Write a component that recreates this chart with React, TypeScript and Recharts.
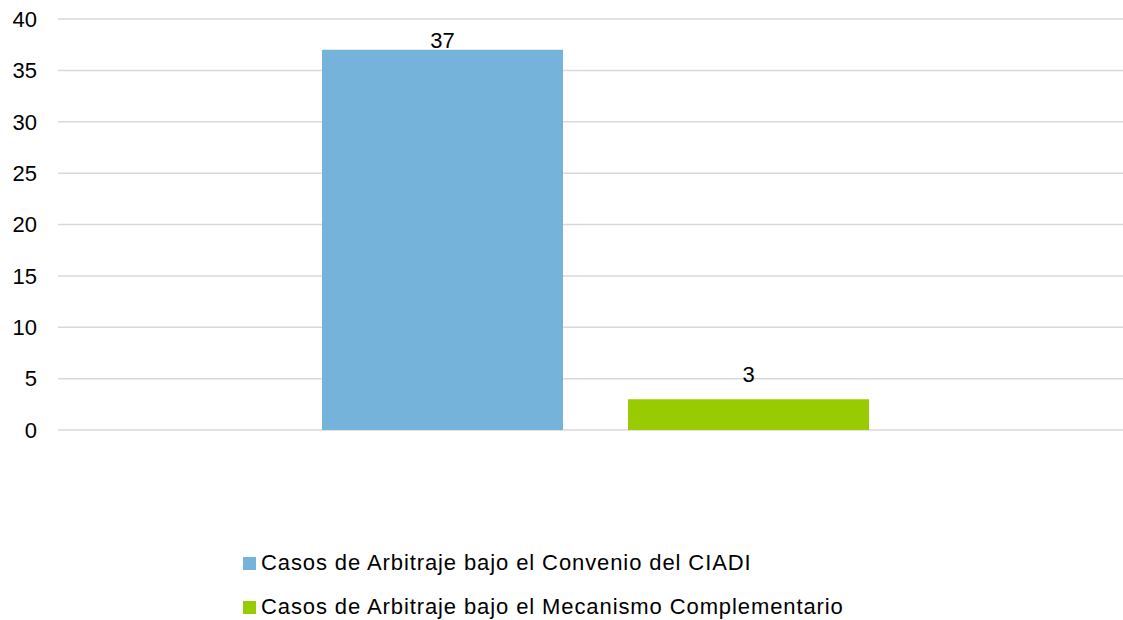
import { BarChart, Bar, XAxis, YAxis, CartesianGrid, LabelList, Legend } from "recharts";

const CATEGORIES = ["Casos"];
const SERIES_NAMES = [
  "Casos de Arbitraje bajo el Convenio del CIADI",
  "Casos de Arbitraje bajo el Mecanismo Complementario",
];
const CONVENIO = [37];
const MECANISMO = [3];
const Y_TICKS = [0, 5, 10, 15, 20, 25, 30, 35, 40];

const COLORS = ["#76B3DB", "#99CC00"];
const FONT = '"Liberation Sans", Arial, sans-serif';

const data = CATEGORIES.map((c, i) => ({ name: c, convenio: CONVENIO[i], mecanismo: MECANISMO[i] }));

// Excel-style "outside end" label, kept inside the plot top
const renderLabel = (props: any) => {
  const { x, y, width, value } = props;
  const baseline = Math.max(y - 17, 48);
  return (
    <text x={x + width / 2} y={baseline} textAnchor="middle" fontSize={22} fontFamily={FONT} fill="#000">
      {value}
    </text>
  );
};

const renderLegend = () => (
  <div style={{ fontFamily: FONT, fontSize: 22, color: "#000" }}>
    {SERIES_NAMES.map((n, i) => (
      <div key={n} style={{ display: "flex", alignItems: "center", height: 44, whiteSpace: "nowrap" }}>
        <span style={{ display: "inline-block", width: 13, height: 13, background: COLORS[i], marginRight: 5 }} />
        <span style={{ letterSpacing: 0.9 }}>{n}</span>
      </div>
    ))}
  </div>
);

export default function App() {
  return (
    <div style={{ position: "absolute", left: 0, top: 0, width: 1123, height: 620, overflow: "hidden", background: "#fff" }}>
      <BarChart
        width={1133}
        height={620}
        data={data}
        margin={{ top: 19, right: 0, left: 0, bottom: 190 }}
        barGap={65}
        barSize={241}
      >
        <CartesianGrid vertical={false} stroke="#d9d9d9" strokeWidth={1.5} />
        <XAxis dataKey="name" hide />
        <YAxis
          width={58}
          domain={[0, 40]}
          ticks={Y_TICKS}
          axisLine={false}
          tickLine={false}
          tickSize={0}
          tickMargin={21}
          interval={0}
          tick={{ fill: "#000", fontSize: 22, fontFamily: FONT }}
        />
        <Legend
          layout="vertical"
          verticalAlign="middle"
          align="center"
          content={renderLegend}
          wrapperStyle={{ top: 541, left: 243, width: "auto" }}
        />
        <Bar dataKey="convenio" name={SERIES_NAMES[0]} fill={COLORS[0]} isAnimationActive={false}>
          <LabelList dataKey="convenio" content={renderLabel} />
        </Bar>
        <Bar dataKey="mecanismo" name={SERIES_NAMES[1]} fill={COLORS[1]} isAnimationActive={false}>
          <LabelList dataKey="mecanismo" content={renderLabel} />
        </Bar>
      </BarChart>
    </div>
  );
}
